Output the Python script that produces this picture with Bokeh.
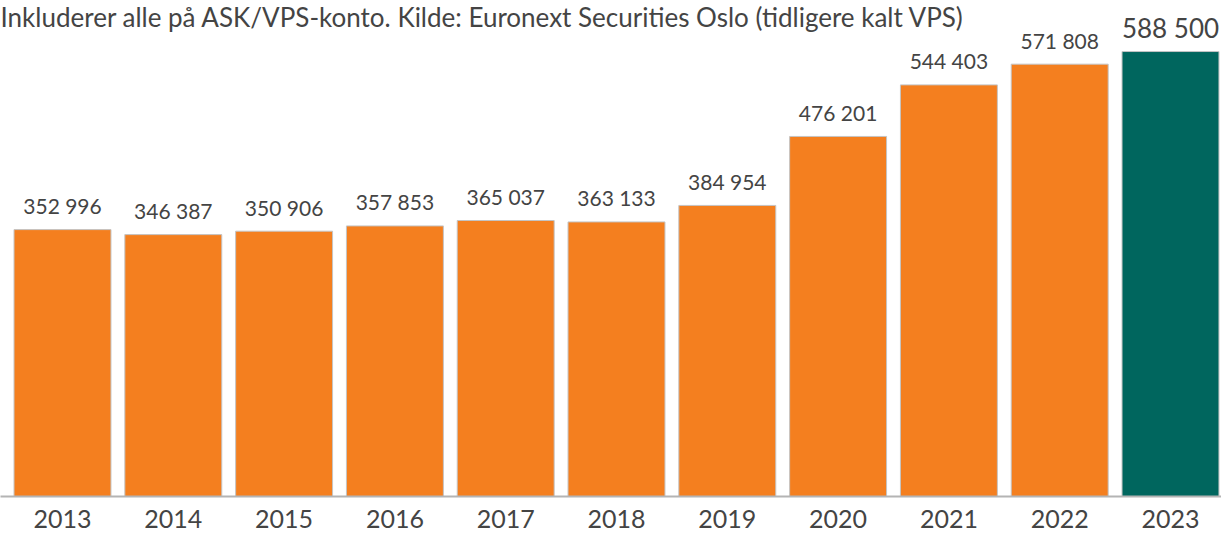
from bokeh.plotting import figure
from bokeh.models import Range1d, FixedTicker, ColumnDataSource, Label
from bokeh.core.properties import value
from bokeh.embed import file_html
from bokeh.resources import INLINE

years = [2013, 2014, 2015, 2016, 2017, 2018, 2019, 2020, 2021, 2022, 2023]
owners = [352996, 346387, 350906, 357853, 365037, 363133, 384954, 476201, 544403, 571808, 588500]
bar_colors = ["#F47F1F"] * 10 + ["#00665E"]
label_sizes = ["21px"] * 10 + ["26px"]
title_text = "Inkluderer alle på ASK/VPS-konto. Kilde: Euronext Securities Oslo (tidligere kalt VPS)"

labels = [f"{v:,}".replace(",", " ") for v in owners]

src = ColumnDataSource(dict(x=years, top=owners, color=bar_colors, label=labels, size=label_sizes))

p = figure(width=1221, height=534, output_backend="svg", toolbar_location=None,
           x_range=Range1d(2012.4404, 2023.4603), y_range=Range1d(0, 656000),
           min_border_left=0, min_border_right=0, min_border_top=0, min_border_bottom=38)
p.outline_line_color = None
p.xgrid.visible = False
p.ygrid.visible = False
p.yaxis.visible = False

p.vbar(x="x", top="top", width=0.875, bottom=0, fill_color="color",
       line_color="#c4c4c4", line_width=1, source=src)

p.text(x="x", y="top", text="label", text_font_size="size", text_align="center",
       text_baseline="alphabetic", y_offset=-24, text_color="#444444",
       text_font=value("Lato"), source=src)

ax = p.xaxis[0]
ax.ticker = FixedTicker(ticks=years)
ax.axis_line_color = "#b4b4b4"
ax.axis_line_width = 2
ax.major_tick_line_color = None
ax.minor_tick_line_color = None
ax.major_tick_out = 0
ax.major_tick_in = 0
ax.major_label_standoff = 13
ax.major_label_text_font = "Lato"
ax.major_label_text_font_size = "25px"
ax.major_label_text_color = "#444444"

p.add_layout(Label(x=p.x_range.start, y=p.y_range.end, text=title_text,
                   text_baseline="top", text_align="left", text_font="Lato",
                   text_font_size="26px", text_color="#444444"))

open("out.html", "w").write(file_html(p, INLINE))
